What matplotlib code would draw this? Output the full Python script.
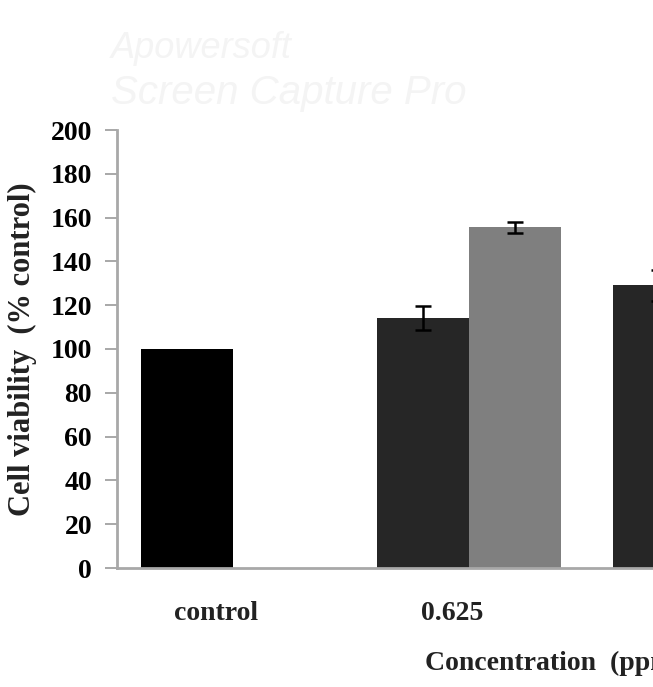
import matplotlib
matplotlib.use('Agg')
import matplotlib.pyplot as plt
import numpy as np

# values
groups = ['control', '0.625', '1.25']
dark_vals = [100, 114, 129]
dark_err = [0, 5.5, 7]
gray_vals = [np.nan, 155.5, np.nan]
gray_err = [np.nan, 2.7, np.nan]
yticks = list(range(0, 201, 20))


def main():
    plt.rcParams['font.family'] = ['Liberation Serif', 'DejaVu Serif']
    plt.rcParams['font.weight'] = 'bold'

    fig = plt.figure(figsize=(6.53, 6.87), dpi=100)
    fig.patch.set_facecolor('white')

    # faint screen-capture watermark
    fig.text(0.17, 0.915, 'Apowersoft', fontsize=26, style='italic',
             family='Liberation Sans', color='#f4f4f4', weight='normal')
    fig.text(0.17, 0.848, 'Screen Capture Pro', fontsize=29, style='italic',
             family='Liberation Sans', color='#f4f4f4', weight='normal')

    ax = fig.add_axes([117/653, 119/687, 536/653, 438/687])
    x = np.arange(len(groups))
    w = 0.39

    colors = ['#000000'] + ['#262626'] * (len(groups) - 1)
    ax.bar(x - w/2, dark_vals, w, color=colors, zorder=2)
    ax.bar(x + w/2, gray_vals, w, color='#7f7f7f', zorder=2)

    err_x = x[1:] - w/2
    ax.errorbar(err_x, dark_vals[1:], yerr=dark_err[1:], fmt='none',
                ecolor='black', elinewidth=1.8, capsize=5.5, capthick=1.8, zorder=3)
    ax.errorbar(x + w/2, gray_vals, yerr=gray_err, fmt='none',
                ecolor='black', elinewidth=1.8, capsize=5.5, capthick=1.8, zorder=3)

    ax.set_yticks(yticks)
    ax.set_yticklabels([str(t) for t in yticks], fontsize=20, fontweight='bold')
    ax.set_xticks(x - 0.07)
    ax.set_xticklabels(groups, fontsize=20, fontweight='bold', color='#222222')
    ax.set_xlim(-0.49, -0.49 + 536/236)
    ax.set_ylim(0, 200)
    ax.tick_params(axis='x', length=0, pad=24)
    ax.tick_params(axis='y', length=9, width=1.2, color='#999999', pad=9,
                   direction='out')

    for side in ['top', 'right']:
        ax.spines[side].set_visible(False)
    for side in ['left', 'bottom']:
        ax.spines[side].set_color('#a8a8a8')
        ax.spines[side].set_linewidth(2)

    ax.set_ylabel('Cell viability  (% control)', fontsize=22, fontweight='bold',
                  color='#222222')
    ax.yaxis.set_label_coords(-0.150, 0.5)
    ax.set_xlabel('Concentration  (ppm)', fontsize=20, fontweight='bold',
                  color='#222222', ha='left')
    ax.xaxis.set_label_coords((425 - 117) / 536, -0.19)

    fig.savefig('out.png', dpi=100, facecolor='white')


if __name__ == '__main__':
    main()
